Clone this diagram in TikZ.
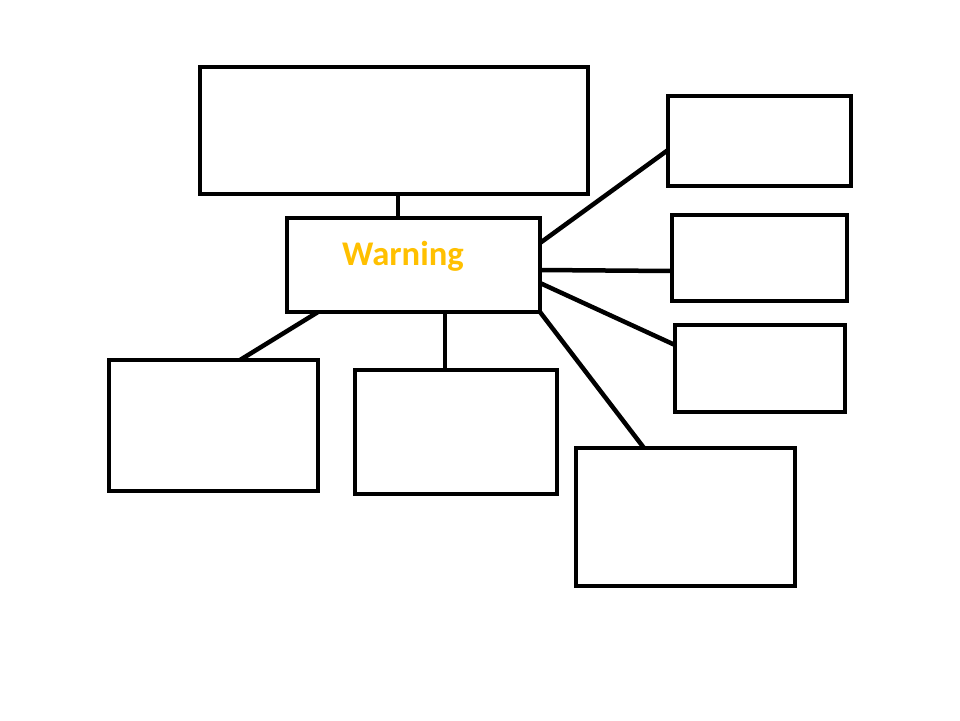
\documentclass[tikz,border=0pt]{standalone}
\usepackage{fontspec}
\newfontfamily\calib{Carlito}
\definecolor{warngold}{HTML}{FFC000}
\begin{document}
\begin{tikzpicture}[x=1pt,y=-1pt,
  box/.style={draw=black,line width=4.5pt,inner sep=0pt,outer sep=0pt},
  link/.style={draw=black,line width=4.5pt},
  warnlabel/.style={anchor=base,text=warngold,inner sep=0pt,font=\calib\bfseries\fontsize{34.6}{36}\selectfont}]
\useasboundingbox (0,0) rectangle (960,720);
\fill[white] (0,0) rectangle (960,720);
% boxes
\node[box,minimum width=388pt,minimum height=127pt] (top) at (394,130.5) {};
\node[box,minimum width=253pt,minimum height=94pt] (c) at (413.5,265) {};
\node[box,minimum width=183pt,minimum height=90pt] (r1) at (759.5,141) {};
\node[box,minimum width=175pt,minimum height=86pt] (r2) at (759.5,258) {};
\node[box,minimum width=170pt,minimum height=87pt] (r3) at (760,368.5) {};
\node[box,minimum width=209pt,minimum height=131pt] (bl) at (213.5,425.5) {};
\node[box,minimum width=202pt,minimum height=124pt] (bm) at (456,432) {};
\node[box,minimum width=219pt,minimum height=138pt] (br) at (685.5,517) {};
\node[warnlabel] (warn) at (403,265) {Warning};
% connectors
\draw[link] ([xshift=4pt]top.south) -- ([xshift=-15.5pt]c.north);
\draw[link] ([yshift=22pt]c.east) -- ([yshift=-9pt]r1.west);
\draw[link] ([yshift=-5pt]c.east) -- ([yshift=-13pt]r2.west);
\draw[link] ([yshift=-18pt]c.east) -- ([yshift=23.5pt]r3.west);
\draw[link] (c.south east) -- ([xshift=-41.5pt]br.north);
\draw[link] ([xshift=31.5pt]c.south) -- ([xshift=-11pt]bm.north);
\draw[link] ([xshift=31pt]c.south west) -- ([xshift=26.5pt]bl.north);
\end{tikzpicture}
\end{document}
